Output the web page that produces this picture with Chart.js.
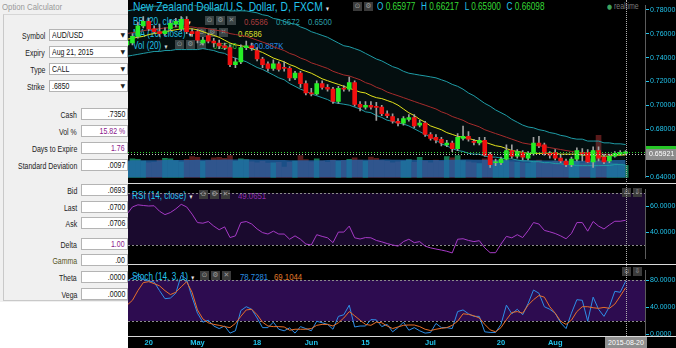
<!DOCTYPE html>
<html>
<head>
<meta charset="utf-8">
<title>NZD/USD daily</title>
<script src="https://cdn.jsdelivr.net/npm/chart.js@4.4.1/dist/chart.umd.min.js"></script>
<style>
    html, body { margin: 0; padding: 0; }
    body {
        width: 676px; height: 348px; position: relative; overflow: hidden;
        background: #000;
        font-family: 'Liberation Sans', Arial, sans-serif;
    }
    /* the platform font is a narrow sans: squeeze the regular one */
    .nx { display: inline-block; transform: scaleX(0.82); transform-origin: left center; white-space: nowrap; }
    .nr { display: inline-block; transform: scaleX(0.82); transform-origin: right center; white-space: nowrap; }

    .calc { position: absolute; left: 0; top: 0; width: 128px; height: 302px; background: #f0f0f0; z-index: 4; }
    .calc-title { position: absolute; left: 2px; top: 1px; font-size: 9.5px; color: #9a9a9a; }
    .calc-box { position: absolute; left: 3px; top: 14px; width: 125px; height: 287px; border-left: 1px solid #c9c9c9; border-top: 1px solid #d6d6d6; border-bottom: 1px solid #c9c9c9; box-sizing: border-box; }
    .blank { position: absolute; left: 0; top: 302px; width: 128px; height: 46px; background: #fff; z-index: 4; }
    .lbl { position: absolute; font-size: 8.5px; line-height: 10px; color: #222; text-align: right; white-space: nowrap; transform: scaleX(0.82); transform-origin: right center; }
    .lbl.s { right: 83px; }
    .lbl.f { right: 51px; }
    .sel { position: absolute; left: 49px; width: 79px; height: 12px; background: #fff; border: 1px solid #b4b4b4; box-sizing: border-box; font-size: 8.5px; line-height: 10px; padding-left: 2px; color: #111; }
    .sel .arr { position: absolute; right: 2px; top: 0; font-family: 'DejaVu Sans', sans-serif; font-size: 6px; color: #222; }
    .inp { position: absolute; left: 81px; width: 47px; height: 12px; background: #fff; border: 1px solid #b4b4b4; box-sizing: border-box; font-size: 8.5px; line-height: 10px; text-align: right; padding-right: 2px; color: #111; }
    .inp.p { color: #8a168a; }

    .wrap { position: absolute; left: 128px; width: 548px; z-index: 2; }
    .band { position: absolute; z-index: 0; }
    .legend { position: absolute; left: 0; top: 0; width: 676px; height: 348px; z-index: 1; }
    .lg { position: absolute; white-space: nowrap; color: #22c4ec; font-size: 10px; line-height: 11px; transform: scaleX(0.82); transform-origin: left center; }
    .dd { font-family: 'DejaVu Sans', sans-serif; color: #e8e8e8; font-size: 7px; margin-left: 4px; }
    .ico { position: absolute; width: 9px; height: 9px; background: #3b3b3b; color: #9c9c9c; font-family: 'DejaVu Sans', sans-serif; font-size: 7px; line-height: 9px; text-align: center; }
    .val { position: absolute; white-space: nowrap; font-size: 9.5px; line-height: 11px; transform: scaleX(0.82); transform-origin: left center; }
    .k { color: #22c4ec; }
    .v { color: #36dc36; margin-right: 7px; }
    .sep { position: absolute; left: 128px; width: 548px; height: 1px; background: #d9d9d9; z-index: 3; }
    .cross { position: absolute; top: 0; height: 336px; border-left: 1px dotted #b0b0b0; z-index: 3; }
    .datetag { position: absolute; top: 337px; width: 42px; height: 11px; background: #8e8e8e; color: #fff; font-size: 7px; line-height: 11px; text-align: center; white-space: nowrap; z-index: 3; }
</style>
</head>
<body>

<div class="calc">
    <div class="calc-title"><span class="nx">Option Calculator</span></div>
    <div class="calc-box"></div>

    <div class="lbl s" style="top:31px">Symbol</div>
    <div class="sel" style="top:29px"><span class="nx">AUD/USD</span><span class="arr">▼</span></div>
    <div class="lbl s" style="top:48px">Expiry</div>
    <div class="sel" style="top:46px"><span class="nx">Aug 21, 2015</span><span class="arr">▼</span></div>
    <div class="lbl s" style="top:65px">Type</div>
    <div class="sel" style="top:63px"><span class="nx">CALL</span><span class="arr">▼</span></div>
    <div class="lbl s" style="top:82px">Strike</div>
    <div class="sel" style="top:80px"><span class="nx">.6850</span><span class="arr">▼</span></div>

    <div class="lbl f" style="top:110px">Cash</div>
    <div class="inp" style="top:108px"><span class="nr">.7350</span></div>
    <div class="lbl f" style="top:127px">Vol %</div>
    <div class="inp p" style="top:125px"><span class="nr">15.82 %</span></div>
    <div class="lbl f" style="top:144px">Days to Expire</div>
    <div class="inp p" style="top:142px"><span class="nr">1.76</span></div>
    <div class="lbl f" style="top:161px">Standard Deviation</div>
    <div class="inp" style="top:159px"><span class="nr">.0097</span></div>

    <div class="lbl f" style="top:186px">Bid</div>
    <div class="inp" style="top:184px"><span class="nr">.0693</span></div>
    <div class="lbl f" style="top:203px">Last</div>
    <div class="inp" style="top:201px"><span class="nr">.0700</span></div>
    <div class="lbl f" style="top:219px">Ask</div>
    <div class="inp" style="top:217px"><span class="nr">.0706</span></div>

    <div class="lbl f" style="top:240px">Delta</div>
    <div class="inp p" style="top:238px"><span class="nr">1.00</span></div>
    <div class="lbl f" style="top:256px; color:#55551e">Gamma</div>
    <div class="inp" style="top:254px"><span class="nr">.00</span></div>
    <div class="lbl f" style="top:273px">Theta</div>
    <div class="inp" style="top:271px"><span class="nr">.0000</span></div>
    <div class="lbl f" style="top:290px">Vega</div>
    <div class="inp" style="top:288px"><span class="nr">.0000</span></div>
</div>
<div class="blank"></div>

<div class="band" id="rsiBand" style="background:#1a0a2e"></div>
<div class="band" id="stochBand" style="background:#2d0c50"></div>

<div class="legend">
    <div class="lg" style="left:133px; top:1px; font-size:12.5px; line-height:13px">New Zealand Dollar/U.S. Dollar, D, FXCM<span class="dd">▾</span></div>
    <span class="ico" style="left:353px; top:2px">⊙</span>
    <span class="ico" style="left:364px; top:2px">⚙</span>
    <div class="val" style="left:377px; top:1px; font-size:10px"><span class="k">O</span> <span class="v">0.65977</span><span class="k">H</span> <span class="v">0.66217</span><span class="k">L</span> <span class="v">0.65900</span><span class="k">C</span> <span class="v">0.66098</span></div>
    <div class="val" style="left:607px; top:1px; font-size:8.5px; color:#7a7a7a"><span style="color:#3ea35e; font-family:'DejaVu Sans',sans-serif; font-size:7px">●</span> realtime</div>

    <div class="lg" style="left:133px; top:16px">BB (20, close)<span class="dd">▾</span></div>
    <span class="ico" style="left:205px; top:16px">⊙</span>
    <span class="ico" style="left:216px; top:16px">⚙</span>
    <span class="ico" style="left:227px; top:16px">✕</span>
    <div class="val" style="left:244px; top:16px; color:#b83434">0.6586</div>
    <div class="val" style="left:276px; top:16px; color:#2a9ea6">0.6672</div>
    <div class="val" style="left:308px; top:16px; color:#2a9ea6">0.6500</div>

    <div class="lg" style="left:133px; top:28px">MA (10, close)<span class="dd">▾</span></div>
    <span class="ico" style="left:197px; top:28px">⊙</span>
    <span class="ico" style="left:208px; top:28px">⚙</span>
    <span class="ico" style="left:219px; top:28px">✕</span>
    <div class="val" style="left:238px; top:28px; color:#e6e620">0.6586</div>

    <div class="lg" style="left:133px; top:40px">Vol (20)<span class="dd">▾</span></div>
    <span class="ico" style="left:175px; top:40px">⊙</span>
    <span class="ico" style="left:186px; top:40px">⚙</span>
    <span class="ico" style="left:197px; top:40px">✕</span>
    <div class="val" style="left:213px; top:40px; color:#2fbf2f">0.6586</div>
    <div class="val" style="left:250px; top:40px; color:#2b8ef0">200.887K</div>

    <div class="lg" style="left:132px; top:190px">RSI (14, close)<span class="dd">▾</span></div>
    <span class="ico" style="left:199px; top:190px">⊙</span>
    <span class="ico" style="left:210px; top:190px">⚙</span>
    <span class="ico" style="left:221px; top:190px">✕</span>
    <div class="val" style="left:238px; top:190px; color:#8f2fa8">49.0651</div>
    <span class="ico" style="left:622px; top:188px">▫</span>
    <span class="ico" style="left:633px; top:188px">⇩</span>

    <div class="lg" style="left:132px; top:271px">Stoch (14, 3, 1)<span class="dd">▾</span></div>
    <span class="ico" style="left:200px; top:271px">⊙</span>
    <span class="ico" style="left:211px; top:271px">⚙</span>
    <span class="ico" style="left:222px; top:271px">✕</span>
    <div class="val" style="left:240px; top:271px; color:#2a8fe0">78.7281</div>
    <div class="val" style="left:274px; top:271px; color:#e07a2a">69.1044</div>
    <span class="ico" style="left:622px; top:267px">▫</span>
    <span class="ico" style="left:633px; top:267px">⇩</span>
</div>

<div class="wrap" style="top:0; height:183px"><canvas id="priceChart"></canvas></div>
<div class="wrap" style="top:184px; height:80px"><canvas id="rsiChart"></canvas></div>
<div class="wrap" style="top:265px; height:83px"><canvas id="stochChart"></canvas></div>

<div class="sep" style="top:183px"></div>
<div class="sep" style="top:264px"></div>
<div class="sep" style="top:336px"></div>
<div class="cross" id="cross"></div>
<div class="datetag" id="dateTag"></div>

<script>
// daily bars, 2015-04-14 .. 2015-08-20 (index 0..92)
const lastDate = '2015-08-20';
const tickIndex = [4, 13, 24, 34, 44, 56, 69, 79];
const tickText = ['20', 'May', '18', 'Jun', '15', 'Jul', '20', 'Aug'];

const open = [
    .7507, .7523, .7578, .7666, .7705, .7642, .7618, .7602, .7642, .7681,
    .7642, .7721, .7618, .7618, .7523, .7586, .7539, .7523, .7499, .7484,
    .7341, .7365, .7484, .7499, .7460, .7389, .7349, .7310, .7349, .7317,
    .7310, .7230, .7270, .7183, .7104, .7096, .7183, .7151, .7136, .7033,
    .7143, .7136, .7191, .7009, .6985, .7001, .6985, .6985, .6930, .6906,
    .6867, .6851, .6882, .6898, .6835, .6851, .6756, .6732, .6716, .6669,
    .6685, .6637, .6724, .6740, .6692, .6685, .6708, .6590, .6519, .6519,
    .6550, .6621, .6574, .6606, .6558, .6598, .6685, .6669, .6598, .6606,
    .6558, .6534, .6503, .6550, .6598, .6606, .6526, .6621, .6566, .6534,
    .6574, .6590, .65977
];
const high = [
    .7555, .7602, .7697, .7745, .7729, .7666, .7681, .7650, .7713, .7729,
    .7745, .7745, .7642, .7634, .7571, .7602, .7563, .7547, .7523, .7507,
    .7396, .7507, .7539, .7523, .7484, .7404, .7365, .7381, .7365, .7365,
    .7325, .7286, .7286, .7207, .7143, .7207, .7207, .7175, .7151, .7159,
    .7167, .7238, .7207, .7033, .7033, .7033, .7025, .7001, .6954, .6930,
    .6890, .6906, .6922, .6922, .6875, .6867, .6772, .6756, .6732, .6708,
    .6700, .6764, .6827, .6780, .6716, .6732, .6732, .6606, .6550, .6566,
    .6669, .6669, .6629, .6621, .6613, .6732, .6740, .6685, .6613, .6629,
    .6582, .6550, .6566, .6645, .6637, .6629, .6653, .6653, .6590, .6590,
    .6613, .6621, .66217
];
const low = [
    .7491, .7507, .7563, .7650, .7626, .7602, .7578, .7586, .7626, .7658,
    .7626, .7602, .7578, .7523, .7507, .7523, .7491, .7476, .7468, .7325,
    .7317, .7349, .7468, .7460, .7373, .7317, .7286, .7294, .7286, .7286,
    .7207, .7215, .7151, .7088, .7080, .7088, .7136, .7120, .7017, .7017,
    .7120, .7120, .6993, .6954, .6969, .6969, .6875, .6914, .6898, .6851,
    .6827, .6835, .6867, .6811, .6819, .6740, .6708, .6685, .6661, .6653,
    .6613, .6621, .6708, .6700, .6669, .6669, .6574, .6479, .6495, .6503,
    .6542, .6558, .6558, .6542, .6542, .6582, .6645, .6582, .6558, .6542,
    .6519, .6487, .6487, .6534, .6534, .6519, .6479, .6534, .6511, .6519,
    .6566, .6582, .65900
];
const close = [
    .7539, .7578, .7666, .7705, .7642, .7618, .7602, .7626, .7689, .7705,
    .7721, .7618, .7602, .7547, .7547, .7539, .7523, .7499, .7484, .7341,
    .7365, .7484, .7499, .7484, .7389, .7341, .7310, .7349, .7302, .7310,
    .7230, .7270, .7183, .7104, .7096, .7183, .7151, .7136, .7033, .7143,
    .7136, .7191, .7009, .6985, .7001, .6985, .6983, .6930, .6914, .6867,
    .6851, .6890, .6898, .6827, .6851, .6756, .6724, .6708, .6685, .6685,
    .6637, .6732, .6740, .6716, .6690, .6708, .6582, .6503, .6526, .6550,
    .6621, .6574, .6613, .6566, .6598, .6685, .6661, .6598, .6582, .6558,
    .6534, .6503, .6550, .6621, .6596, .6526, .6621, .6558, .6526, .6574,
    .6598, .6606, .66098
];

const bbUpper = [
    .7792, .7800, .7808, .7816, .7824, .7832, .7832, .7840, .7840, .7848,
    .7848, .7848, .7848, .7832, .7824, .7816, .7808, .7808, .7800, .7792,
    .7792, .7793, .7792, .7784, .7776, .7760, .7752, .7729, .7721, .7705,
    .7689, .7682, .7658, .7642, .7618, .7603, .7587, .7571, .7547, .7523,
    .7500, .7492, .7476, .7460, .7436, .7413, .7389, .7373, .7349, .7325,
    .7310, .7286, .7270, .7262, .7254, .7247, .7239, .7231, .7215, .7199,
    .7176, .7160, .7136, .7104, .7081, .7049, .7017, .6993, .6962, .6939,
    .6915, .6883, .6859, .6835, .6819, .6812, .6796, .6788, .6772, .6764,
    .6749, .6741, .6725, .6717, .6717, .6701, .6701, .6701, .6686, .6686,
    .6678, .6678, .6672
];
const bbMid = [
    .7602, .7610, .7618, .7626, .7634, .7642, .7642, .7650, .7650, .7658,
    .7658, .7658, .7658, .7650, .7650, .7642, .7634, .7626, .7618, .7602,
    .7594, .7587, .7579, .7563, .7547, .7531, .7515, .7492, .7476, .7460,
    .7436, .7421, .7397, .7381, .7357, .7342, .7326, .7310, .7286, .7270,
    .7255, .7247, .7231, .7215, .7191, .7176, .7152, .7136, .7112, .7096,
    .7081, .7065, .7049, .7033, .7017, .7002, .6986, .6970, .6946, .6930,
    .6907, .6891, .6875, .6851, .6836, .6820, .6796, .6780, .6764, .6749,
    .6733, .6717, .6701, .6685, .6677, .6670, .6662, .6654, .6646, .6638,
    .6630, .6622, .6614, .6606, .6606, .6598, .6598, .6598, .6591, .6591,
    .6591, .6591, .6586
];
const bbLower = [
    .7412, .7420, .7428, .7436, .7444, .7452, .7452, .7460, .7460, .7468,
    .7468, .7468, .7468, .7468, .7476, .7468, .7460, .7444, .7436, .7412,
    .7396, .7381, .7366, .7342, .7318, .7302, .7278, .7255, .7231, .7215,
    .7183, .7160, .7136, .7120, .7096, .7081, .7065, .7049, .7025, .7017,
    .7010, .7002, .6986, .6970, .6946, .6939, .6915, .6899, .6875, .6867,
    .6852, .6844, .6828, .6804, .6780, .6757, .6733, .6709, .6677, .6661,
    .6638, .6622, .6614, .6598, .6591, .6591, .6575, .6567, .6566, .6559,
    .6551, .6551, .6543, .6535, .6535, .6528, .6528, .6520, .6520, .6512,
    .6511, .6503, .6503, .6495, .6495, .6495, .6495, .6495, .6496, .6496,
    .6504, .6504, .6500
];
const ma10 = [
    .7555, .7563, .7571, .7579, .7594, .7602, .7610, .7618, .7626, .7634,
    .7642, .7642, .7642, .7634, .7618, .7602, .7587, .7571, .7547, .7523,
    .7508, .7500, .7492, .7476, .7460, .7444, .7421, .7397, .7381, .7365,
    .7342, .7326, .7302, .7286, .7270, .7247, .7223, .7207, .7191, .7176,
    .7160, .7144, .7128, .7112, .7104, .7081, .7065, .7057, .7041, .7025,
    .7002, .6970, .6938, .6915, .6883, .6859, .6828, .6812, .6796, .6772,
    .6757, .6741, .6733, .6725, .6709, .6701, .6693, .6677, .6662, .6654,
    .6638, .6622, .6614, .6606, .6598, .6598, .6598, .6598, .6598, .6598,
    .6591, .6591, .6591, .6591, .6583, .6583, .6583, .6575, .6575, .6575,
    .6583, .6583, .6586
];

// volume in thousands
const volume = [
    180, 215, 210, 190, 170, 175, 200, 220, 215, 195,
    180, 210, 240, 230, 185, 195, 225, 230, 220, 250,
    190, 215, 205, 180, 170, 185, 165, 170, 175, 120,
    175, 190, 250, 205, 180, 215, 190, 175, 200, 185,
    195, 210, 225, 200, 190, 235, 220, 195, 185, 170,
    180, 190, 205, 175, 230, 190, 170, 200, 185, 240,
    225, 250, 195, 180, 170, 160, 215, 240, 190, 185,
    195, 180, 175, 170, 165, 190, 200, 170, 160, 185,
    150, 175, 165, 190, 160, 200, 215, 480, 190, 170,
    160, 155, 140
];
const volumeMa = [
    196, 197, 197, 198, 198, 199, 199, 200, 200, 201,
    201, 202, 202, 203, 204, 204, 205, 205, 206, 206,
    207, 207, 207, 206, 205, 204, 203, 202, 201, 200,
    199, 198, 197, 197, 198, 199, 199, 200, 200, 201,
    201, 202, 203, 203, 204, 205, 205, 206, 206, 205,
    204, 204, 203, 203, 202, 202, 201, 201, 202, 203,
    204, 205, 206, 206, 205, 204, 203, 203, 204, 204,
    203, 202, 201, 200, 199, 198, 197, 196, 195, 195,
    194, 193, 193, 192, 192, 193, 194, 196, 198, 199,
    200, 200.5, 200.887
];

const rsi = [
    53.8, 59.3, 60.9, 60.4, 60.0, 60.2, 56.0, 53.4, 55.0, 57.8,
    61.3, 59.3, 53.8, 47.3, 46.8, 48.1, 44.6, 41.8, 44.0, 35.8,
    37.1, 47.3, 48.1, 46.2, 42.4, 39.6, 38.5, 40.7, 38.5, 38.5,
    34.5, 37.1, 34.5, 30.8, 30.1, 38.0, 36.7, 35.6, 31.9, 40.0,
    40.0, 44.6, 35.6, 34.7, 35.8, 35.6, 33.6, 32.5, 31.2, 30.1,
    29.2, 32.7, 34.5, 31.9, 32.7, 29.2, 27.9, 27.0, 26.2, 25.3,
    24.0, 34.5, 34.9, 33.6, 32.7, 33.4, 27.9, 24.2, 24.2, 30.8,
    36.7, 35.6, 38.0, 35.8, 41.1, 47.3, 46.2, 41.3, 40.2, 38.9,
    37.1, 34.9, 38.9, 47.3, 47.3, 40.7, 48.1, 44.6, 42.4, 45.5,
    48.3, 48.3, 49.0651
];

const stochK = [
    79.0, 83.8, 87.6, 81.4, 79.0, 77.6, 64.8, 52.9, 53.8, 61.0,
    87.6, 81.4, 55.2, 31.4, 18.1, 21.0, 12.4, 8.6, 12.4, 1.9,
    5.3, 35.3, 41.0, 37.2, 24.3, 10.0, 10.0, 18.1, 7.6, 5.3,
    9.6, 1.9, 11.5, 8.6, 5.3, 19.5, 17.2, 14.8, 7.6, 26.7,
    29.1, 43.3, 11.0, 12.4, 12.4, 21.9, 21.5, 11.5, 14.8, 3.8,
    10.0, 18.1, 6.2, 10.0, 5.3, 1.9, 2.9, 16.2, 10.0, 10.0,
    8.6, 33.8, 36.2, 30.5, 26.7, 26.7, 3.8, 2.9, 2.9, 14.8,
    43.3, 30.5, 37.2, 29.1, 45.7, 65.7, 61.0, 41.0, 37.2, 31.4,
    17.2, 8.6, 31.4, 51.4, 50.5, 19.5, 55.2, 37.2, 26.7, 41.0,
    63.8, 62.4, 78.7281
];
const stochD = [
    43.3, 50.5, 64.8, 76.7, 78.1, 75.2, 71.9, 64.8, 59.0, 62.4,
    70.5, 78.1, 62.4, 36.2, 22.9, 17.2, 14.8, 13.4, 11.5, 10.0,
    16.2, 26.7, 36.2, 37.2, 29.1, 18.1, 12.4, 11.5, 11.5, 11.0,
    6.2, 7.6, 7.6, 7.6, 8.6, 13.4, 14.8, 14.8, 12.4, 17.2,
    24.3, 33.8, 27.6, 21.0, 14.8, 13.4, 18.1, 17.2, 12.4, 8.6,
    11.0, 13.4, 13.9, 13.9, 11.5, 7.6, 5.7, 7.6, 9.0, 10.0,
    13.4, 19.5, 30.5, 29.6, 27.6, 24.3, 14.8, 6.7, 3.8, 10.0,
    21.9, 32.4, 33.8, 31.4, 43.3, 51.4, 57.6, 55.2, 41.0, 31.4,
    19.5, 14.8, 21.0, 33.8, 41.0, 41.0, 39.5, 38.6, 40.0, 38.6,
    44.8, 56.7, 69.1044
];

const priceTicks = [0.64, 0.66, 0.68, 0.70, 0.72, 0.74, 0.76, 0.78];
const cursorPrice = 0.65921;
const lastClose = close[close.length - 1];
const cursorIndex = close.length - 1;

// shared look
const cyan = '#22c4ec';
const sans = "'Liberation Sans', Arial, sans-serif";
const upColor = '#26ee26', downColor = '#f01010';
const xMin = 0.18, xMax = 95.57;

function indexed(arr) {
    return arr.map((v, i) => ({ x: i, y: v }));
}

function rightAxis(min, max, ticks, digits) {
    return {
        position: 'right', min: min, max: max,
        afterFit: s => { s.width = 31; },
        afterBuildTicks: s => { s.ticks = ticks.map(v => ({ value: v })); },
        ticks: { callback: v => v.toFixed(digits), color: cyan, font: { family: sans, size: 7 }, padding: 1, autoSkip: false },
        grid: { drawOnChartArea: false, color: cyan, tickLength: 4 },
        border: { color: '#5c5c5c' }
    };
}

const hiddenX = { type: 'linear', min: xMin, max: xMax, offset: false, display: false };

const baseOptions = {
    responsive: true, maintainAspectRatio: false, animation: false, devicePixelRatio: 1,
    layout: { padding: 0 },
    events: []
};

// dashed guide lines at fixed oscillator levels
const levelLines = {
    id: 'levelLines',
    beforeDatasetsDraw(chart, args, opts) {
        const { ctx, chartArea: a } = chart;
        const y = chart.scales.y;
        ctx.save();
        ctx.strokeStyle = '#8c8c8c';
        ctx.lineWidth = 1;
        ctx.setLineDash([2, 2]);
        (opts.values || []).forEach(v => {
            const py = Math.round(y.getPixelForValue(v)) + 0.5;
            ctx.beginPath();
            ctx.moveTo(a.left, py);
            ctx.lineTo(a.right, py);
            ctx.stroke();
        });
        ctx.restore();
    }
};

// last close / cursor lines and their tags on the price axis
const priceMarks = {
    id: 'priceMarks',
    afterDatasetsDraw(chart) {
        const { ctx, chartArea: a } = chart;
        const y = chart.scales.y;
        ctx.save();
        ctx.lineWidth = 1;
        ctx.setLineDash([1, 2]);
        [[lastClose, '#2fd12f'], [cursorPrice, '#c8c8c8']].forEach(([p, c]) => {
            const py = Math.round(y.getPixelForValue(p)) + 0.5;
            ctx.strokeStyle = c;
            ctx.beginPath();
            ctx.moveTo(a.left, py);
            ctx.lineTo(a.right, py);
            ctx.stroke();
        });
        ctx.restore();
    },
    afterDraw(chart) {
        const { ctx, chartArea: a } = chart;
        const y = chart.scales.y;
        const gy = Math.round(y.getPixelForValue(lastClose));
        const cy = Math.round(y.getPixelForValue(cursorPrice));
        ctx.save();
        ctx.fillStyle = '#26c426';
        ctx.fillRect(a.right + 1, gy - 6, 31, 12);
        ctx.fillStyle = '#8c8c8c';
        ctx.fillRect(a.right + 1, cy - 5, 31, 11);
        ctx.fillStyle = '#ffffff';
        ctx.font = '7px ' + sans;
        ctx.textBaseline = 'middle';
        ctx.fillText(cursorPrice.toFixed(5), a.right + 4, cy + 0.5);
        ctx.restore();
    }
};

const isUp = i => close[i] >= open[i];

const priceChart = new Chart(document.getElementById('priceChart'), {
    type: 'bar',
    data: {
        datasets: [
            { type: 'bar', data: open.map((o, i) => ({ x: i, y: [o, close[i]] })), backgroundColor: c => isUp(c.dataIndex) ? upColor : downColor, barThickness: 4, minBarLength: 1, grouped: false, order: 0 },
            { type: 'bar', data: low.map((l, i) => ({ x: i, y: [l, high[i]] })), backgroundColor: '#a0a0a0', barThickness: 1, grouped: false, order: 1 },
            { type: 'line', data: indexed(ma10), borderColor: '#e3e31c', borderWidth: 1, pointRadius: 0, order: 2 },
            { type: 'line', data: indexed(bbMid), borderColor: '#a62c2c', borderWidth: 1, pointRadius: 0, order: 3 },
            { type: 'line', data: indexed(bbUpper), borderColor: '#1f9ca6', borderWidth: 1, pointRadius: 0, fill: '+1', backgroundColor: 'rgba(40,140,150,0.10)', order: 4 },
            { type: 'line', data: indexed(bbLower), borderColor: '#1f9ca6', borderWidth: 1, pointRadius: 0, order: 5 },
            { type: 'line', yAxisID: 'vol', data: indexed(volumeMa), borderWidth: 0, pointRadius: 0, fill: 'start', backgroundColor: 'rgba(35,105,180,0.75)', order: 6 },
            { type: 'bar', yAxisID: 'vol', data: indexed(volume), backgroundColor: c => isUp(c.dataIndex) ? '#147a50' : '#5a1a1a', barThickness: 5, grouped: false, order: 7 }
        ]
    },
    options: Object.assign({}, baseOptions, {
        scales: {
            x: hiddenX,
            y: rightAxis(0.6393, 0.7840, priceTicks, 5),
            vol: { display: false, min: 0, max: 1950 }
        },
        plugins: { legend: { display: false }, tooltip: { enabled: false } }
    }),
    plugins: [priceMarks]
});

const rsiChart = new Chart(document.getElementById('rsiChart'), {
    type: 'line',
    data: {
        datasets: [
            { data: indexed(rsi), borderColor: '#a63ac6', borderWidth: 1, pointRadius: 0 }
        ]
    },
    options: Object.assign({}, baseOptions, {
        scales: { x: hiddenX, y: rightAxis(19.5, 72.9, [40, 60], 4) },
        plugins: { legend: { display: false }, tooltip: { enabled: false }, levelLines: { values: [70, 30] } }
    }),
    plugins: [levelLines]
});

const stochChart = new Chart(document.getElementById('stochChart'), {
    type: 'line',
    data: {
        datasets: [
            { data: indexed(stochD), borderColor: '#e8702a', borderWidth: 1, pointRadius: 0 },
            { data: indexed(stochK), borderColor: '#2f8ee6', borderWidth: 1, pointRadius: 0 }
        ]
    },
    options: Object.assign({}, baseOptions, {
        scales: {
            x: {
                type: 'linear', min: xMin, max: xMax, offset: false,
                afterBuildTicks: s => { s.ticks = tickIndex.map(v => ({ value: v })); },
                afterFit: s => { s.height = 12; },
                ticks: { callback: (v, i) => tickText[i], color: cyan, font: { family: sans, size: 7.5, weight: 'bold' }, padding: 2, maxRotation: 0, autoSkip: false },
                grid: { display: false, drawTicks: false },
                border: { display: false }
            },
            y: rightAxis(-2.4, 95.1, [0, 40, 80], 4)
        },
        plugins: { legend: { display: false }, tooltip: { enabled: false }, levelLines: { values: [80, 20] } }
    }),
    plugins: [levelLines]
});

// purple zones behind the oscillators, placed from their own scales
function placeBand(chart, id, top, hi, lo) {
    const el = document.getElementById(id);
    const a = chart.chartArea;
    const y = chart.scales.y;
    const y1 = Math.round(y.getPixelForValue(hi));
    const y2 = Math.round(y.getPixelForValue(lo));
    el.style.left = (128 + a.left) + 'px';
    el.style.width = (a.right - a.left) + 'px';
    el.style.top = (top + y1) + 'px';
    el.style.height = (y2 - y1) + 'px';
}
placeBand(rsiChart, 'rsiBand', 184, 70, 30);
placeBand(stochChart, 'stochBand', 265, 80, 20);

const crossX = 128 + Math.round(priceChart.scales.x.getPixelForValue(cursorIndex));
document.getElementById('cross').style.left = crossX + 'px';
const dateTag = document.getElementById('dateTag');
dateTag.textContent = lastDate;
dateTag.style.left = (crossX - 21) + 'px';
</script>
</body>
</html>
